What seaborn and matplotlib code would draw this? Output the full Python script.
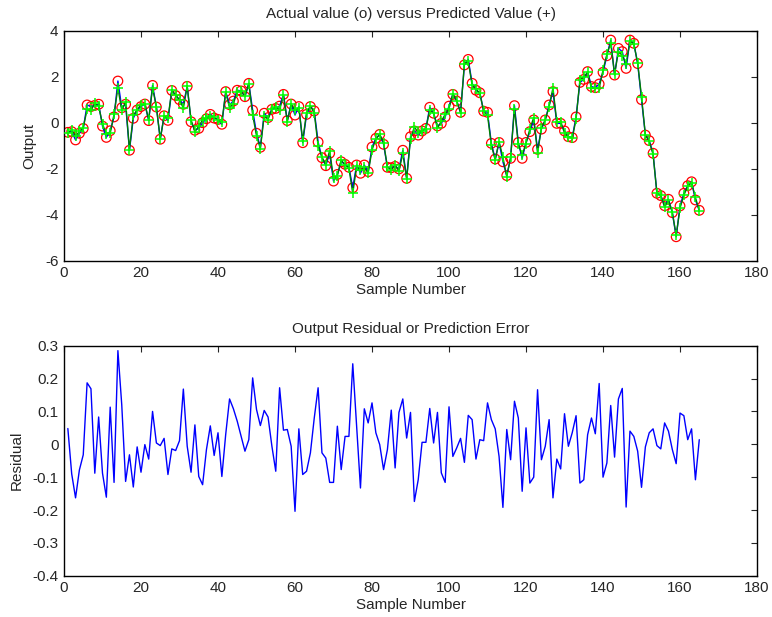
import numpy as np
import pandas as pd
import matplotlib
matplotlib.use("Agg")
import matplotlib.pyplot as plt
import seaborn as sns
from matplotlib.ticker import FuncFormatter, MultipleLocator

# Measured output for each sample
actual = [
    -0.42, -0.39, -0.75, -0.46, -0.25, 0.77, 0.70, 0.75, 0.80, -0.15,
    -0.64, -0.35, 0.25, 1.81, 0.65, 0.80, -1.20, 0.19, 0.55, 0.70,
    0.81, 0.09, 1.62, 0.68, -0.72, 0.30, 0.10, 1.40, 1.18, 1.00,
    0.80, 1.58, 0.04, -0.33, -0.25, 0.00, 0.17, 0.36, 0.20, 0.14,
    -0.07, 1.35, 0.78, 0.94, 1.41, 1.38, 1.13, 1.71, 0.54, -0.46,
    -1.07, 0.41, 0.22, 0.58, 0.62, 0.72, 1.23, 0.09, 0.81, 0.33,
    0.70, -0.87, 0.36, 0.70, 0.51, -0.84, -1.52, -1.87, -1.33, -2.54,
    -2.25, -1.70, -1.81, -1.94, -2.83, -1.84, -2.20, -1.84, -2.13, -1.06,
    -0.68, -0.51, -0.94, -1.94, -1.96, -1.90, -2.01, -1.20, -2.42, -0.61,
    -0.36, -0.54, -0.36, -0.25, 0.67, 0.41, -0.14, -0.03, 0.25, 0.72,
    1.23, 0.94, 0.45, 2.51, 2.75, 1.71, 1.41, 1.30, 0.50, 0.45,
    -0.90, -1.58, -0.86, -1.70, -2.30, -1.55, 0.74, -0.86, -1.55, -0.86,
    -0.39, 0.12, -1.16, -0.28, 0.12, 0.77, 1.35, -0.03, -0.03, -0.36,
    -0.61, -0.65, 0.25, 1.75, 1.88, 2.22, 1.57, 1.52, 1.68, 2.19,
    2.91, 3.59, 2.07, 3.23, 3.09, 2.36, 3.59, 3.45, 2.57, 1.00,
    -0.54, -0.78, -1.33, -3.07, -3.17, -3.61, -3.33, -3.91, -4.96, -3.62,
    -3.07, -2.74, -2.57, -3.36, -3.81,
]

# Prediction error (measured minus predicted)
residual = [
    0.048, -0.090, -0.163, -0.078, -0.032, 0.187, 0.169, -0.088, 0.083, -0.088,
    -0.161, 0.113, -0.116, 0.285, 0.120, -0.113, -0.032, -0.130, -0.008, -0.085,
    -0.001, -0.045, 0.100, 0.004, -0.004, 0.018, -0.092, -0.014, -0.019, 0.011,
    0.168, -0.006, -0.085, 0.059, -0.098, -0.123, -0.016, 0.056, -0.034, 0.035,
    -0.098, 0.030, 0.138, 0.108, 0.070, 0.024, -0.021, 0.014, 0.202, 0.106,
    0.057, 0.103, 0.083, -0.006, -0.082, 0.172, 0.043, 0.045, -0.006, -0.204,
    0.047, -0.092, -0.082, -0.026, 0.080, 0.172, -0.026, -0.042, -0.116, -0.116,
    0.055, -0.077, 0.024, 0.024, 0.245, 0.055, -0.133, 0.108, 0.065, 0.126,
    0.035, -0.001, -0.077, -0.016, 0.104, -0.072, 0.097, 0.138, 0.019, 0.097,
    -0.174, -0.108, 0.006, 0.006, 0.109, 0.004, 0.097, -0.087, -0.116, 0.114,
    -0.037, -0.011, 0.018, -0.055, 0.088, 0.075, -0.045, 0.014, 0.011, 0.126,
    0.075, 0.047, -0.037, -0.192, 0.045, -0.047, 0.131, 0.080, -0.143, 0.050,
    -0.118, -0.100, 0.166, -0.047, -0.006, 0.075, -0.163, -0.045, -0.075, 0.093,
    -0.006, 0.035, 0.087, -0.118, -0.108, 0.029, 0.080, 0.032, 0.185, -0.100,
    -0.057, 0.118, -0.039, 0.138, 0.170, -0.191, 0.040, 0.024, -0.021, -0.131,
    -0.008, 0.035, 0.047, -0.004, -0.014, 0.065, 0.040, -0.016, -0.059, 0.095,
    0.087, 0.014, 0.047, -0.108, 0.014,
]

sample = np.arange(1, len(actual) + 1)
df = pd.DataFrame({"sample": sample, "actual": actual, "residual": residual})
df["predicted"] = df["actual"] - df["residual"]

sns.set_style("white")
plt.rcParams["font.family"] = ["Liberation Sans", "DejaVu Sans"]
plt.rcParams.update({
    "xtick.direction": "in", "ytick.direction": "in",
    "xtick.top": True, "ytick.right": True,
    "xtick.major.size": 4, "ytick.major.size": 4,
    "xtick.major.width": 0.8, "ytick.major.width": 0.8,
    "axes.edgecolor": "black", "axes.linewidth": 1.0,
    "axes.unicode_minus": False,
    "font.size": 11,
})

fig = plt.figure(figsize=(7.72, 6.17), dpi=100)
ax1 = fig.add_axes([0.0829, 0.5775, 0.8977, 0.3728])
ax2 = fig.add_axes([0.0829, 0.0669, 0.8977, 0.3728])

# Top panel: measured vs predicted output
sns.scatterplot(data=df, x="sample", y="actual", ax=ax1, marker="o",
                s=48, facecolor="none", edgecolor="red", linewidth=0.9,
                zorder=2)
sns.lineplot(data=df, x="sample", y="actual", ax=ax1, color="blue",
             linewidth=1.0, zorder=3)
sns.lineplot(data=df, x="sample", y="predicted", ax=ax1, color=(0, 0.5, 0),
             linewidth=1.0, zorder=4)
sns.scatterplot(data=df, x="sample", y="predicted", ax=ax1, marker="+",
                s=60, color=(0, 1, 0), linewidth=1.1, zorder=5)
ax1.set_xlim(0, 180)
ax1.set_ylim(-6, 4)
ax1.xaxis.set_major_locator(MultipleLocator(20))
ax1.yaxis.set_major_locator(MultipleLocator(2))
ax1.set_title("Actual value (o) versus Predicted Value (+)", fontsize=11, pad=9)
ax1.set_xlabel("Sample Number", fontsize=11, labelpad=2)
ax1.set_ylabel("Output", fontsize=11, labelpad=6)

# Bottom panel: residuals
sns.lineplot(data=df, x="sample", y="residual", ax=ax2, color="blue",
             linewidth=1.0)
ax2.set_xlim(0, 180)
ax2.set_ylim(-0.4, 0.3)
ax2.xaxis.set_major_locator(MultipleLocator(20))
ax2.yaxis.set_major_locator(MultipleLocator(0.1))
ax2.yaxis.set_major_formatter(FuncFormatter(lambda v, p: f"{round(v, 1):g}"))
ax2.set_title("Output Residual or Prediction Error", fontsize=11, pad=9)
ax2.set_xlabel("Sample Number", fontsize=11, labelpad=2)
ax2.set_ylabel("Residual", fontsize=11, labelpad=6)

for ax in (ax1, ax2):
    ax.tick_params(labelsize=11, pad=4)
    for s in ax.spines.values():
        s.set_visible(True)
        s.set_color("black")

fig.savefig("out.png", dpi=100)
